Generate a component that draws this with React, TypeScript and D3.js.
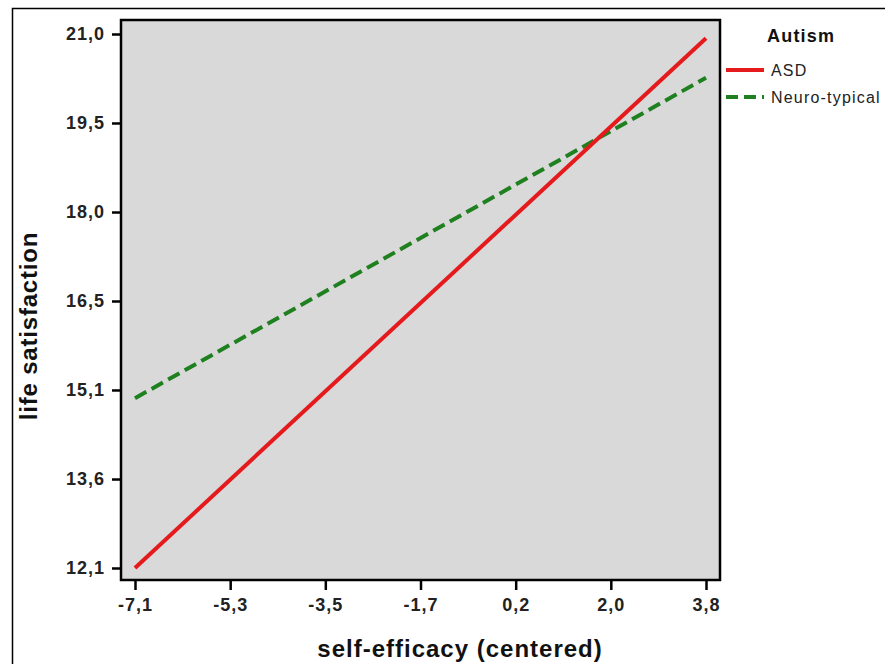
import React, { useRef, useEffect } from 'react';
import * as d3 from 'd3';

// values
const xTicks = [-7.1, -5.283, -3.467, -1.65, 0.167, 1.983, 3.8];
const xTickLabels = ['-7,1', '-5,3', '-3,5', '-1,7', '0,2', '2,0', '3,8'];
const yTicks = [12.1, 13.583, 15.067, 16.55, 18.033, 19.517, 21.0];
const yTickLabels = ['12,1', '13,6', '15,1', '16,5', '18,0', '19,5', '21,0'];

const groups = ['ASD', 'Neuro-typical'];
const selfEfficacy = [-7.1, 3.8];
const asdValues = [12.1, 20.93];
const neuroValues = [14.93, 20.27];

const App = () => {
  const svgRef = useRef<SVGSVGElement>(null);

  useEffect(() => {
    const width = 885;
    const height = 664;
    const font = '"Liberation Sans", Arial, sans-serif';

    const svg = d3.select(svgRef.current)
      .attr('width', width)
      .attr('height', height);
    svg.selectAll('*').remove();

    // outer frame
    svg.append('rect')
      .attr('x', 12.5).attr('y', 8.5)
      .attr('width', 900).attr('height', 700)
      .attr('fill', 'white').attr('stroke', '#000').attr('stroke-width', 1.5);

    // plot area
    const left = 121, top = 20, right = 720, bottom = 580;
    svg.append('rect')
      .attr('x', left).attr('y', top)
      .attr('width', right - left).attr('height', bottom - top)
      .attr('fill', '#d9d9d9').attr('stroke', '#000').attr('stroke-width', 2.5);

    const x = d3.scaleLinear().domain([-7.1, 3.8]).range([135, 706]);
    const y = d3.scaleLinear().domain([12.1, 21.0]).range([568, 34]);

    // y axis
    const yAxis = svg.append('g')
      .attr('transform', `translate(${left},0)`)
      .call(d3.axisLeft(y).tickValues(yTicks).tickSize(9).tickPadding(7)
        .tickFormat((d, i) => yTickLabels[i]));
    yAxis.select('.domain').remove();
    yAxis.selectAll('line').attr('stroke', '#000').attr('stroke-width', 2.5);
    yAxis.selectAll('text')
      .attr('font-family', font).attr('font-size', 18).attr('font-weight', 'bold')
      .attr('letter-spacing', 1)
      .attr('fill', '#222');

    // x axis
    const xAxis = svg.append('g')
      .attr('transform', `translate(0,${bottom})`)
      .call(d3.axisBottom(x).tickValues(xTicks).tickSize(10).tickPadding(8)
        .tickFormat((d, i) => xTickLabels[i]));
    xAxis.select('.domain').remove();
    xAxis.selectAll('line').attr('stroke', '#000').attr('stroke-width', 2.5);
    xAxis.selectAll('text')
      .attr('font-family', font).attr('font-size', 18).attr('font-weight', 'bold')
      .attr('letter-spacing', 1)
      .attr('fill', '#222');

    // axis titles
    svg.append('text')
      .attr('x', 460).attr('y', 657)
      .attr('text-anchor', 'middle')
      .attr('font-family', font).attr('font-size', 24).attr('font-weight', 'bold')
      .attr('letter-spacing', 1)
      .attr('fill', '#111')
      .text('self-efficacy (centered)');
    svg.append('text')
      .attr('transform', 'translate(37,326) rotate(-90)')
      .attr('text-anchor', 'middle')
      .attr('font-family', font).attr('font-size', 24).attr('font-weight', 'bold')
      .attr('letter-spacing', 0.8)
      .attr('fill', '#111')
      .text('life satisfaction');

    // lines
    const line = d3.line<number>()
      .x((d, i) => x(selfEfficacy[i]))
      .y(d => y(d));

    svg.append('path')
      .datum(neuroValues)
      .attr('d', line)
      .attr('fill', 'none')
      .attr('stroke', '#1e801e')
      .attr('stroke-width', 4)
      .attr('stroke-dasharray', '13,6');

    svg.append('path')
      .datum(asdValues)
      .attr('d', line)
      .attr('fill', 'none')
      .attr('stroke', '#e41a1c')
      .attr('stroke-width', 4);

    // legend
    svg.append('text')
      .attr('x', 767).attr('y', 42)
      .attr('font-family', font).attr('font-size', 18).attr('font-weight', 'bold')
      .attr('letter-spacing', 1.2)
      .attr('fill', '#111')
      .text('Autism');

    const legendColors = ['#e41a1c', '#1e801e'];
    const legendDash = [null, '12,6'];
    groups.forEach((g, i) => {
      const ly = 70 + i * 27;
      svg.append('line')
        .attr('x1', 726).attr('x2', 764)
        .attr('y1', ly).attr('y2', ly)
        .attr('stroke', legendColors[i])
        .attr('stroke-width', 4)
        .attr('stroke-dasharray', legendDash[i]);
      svg.append('text')
        .attr('x', 771).attr('y', ly + 6)
        .attr('font-family', font).attr('font-size', 16)
        .attr('letter-spacing', 1.2)
        .attr('fill', '#222')
        .text(g);
    });
  }, []);

  return (
    <svg ref={svgRef} style={{ position: 'absolute', left: 0, top: 0 }}></svg>
  );
};

export default App;
